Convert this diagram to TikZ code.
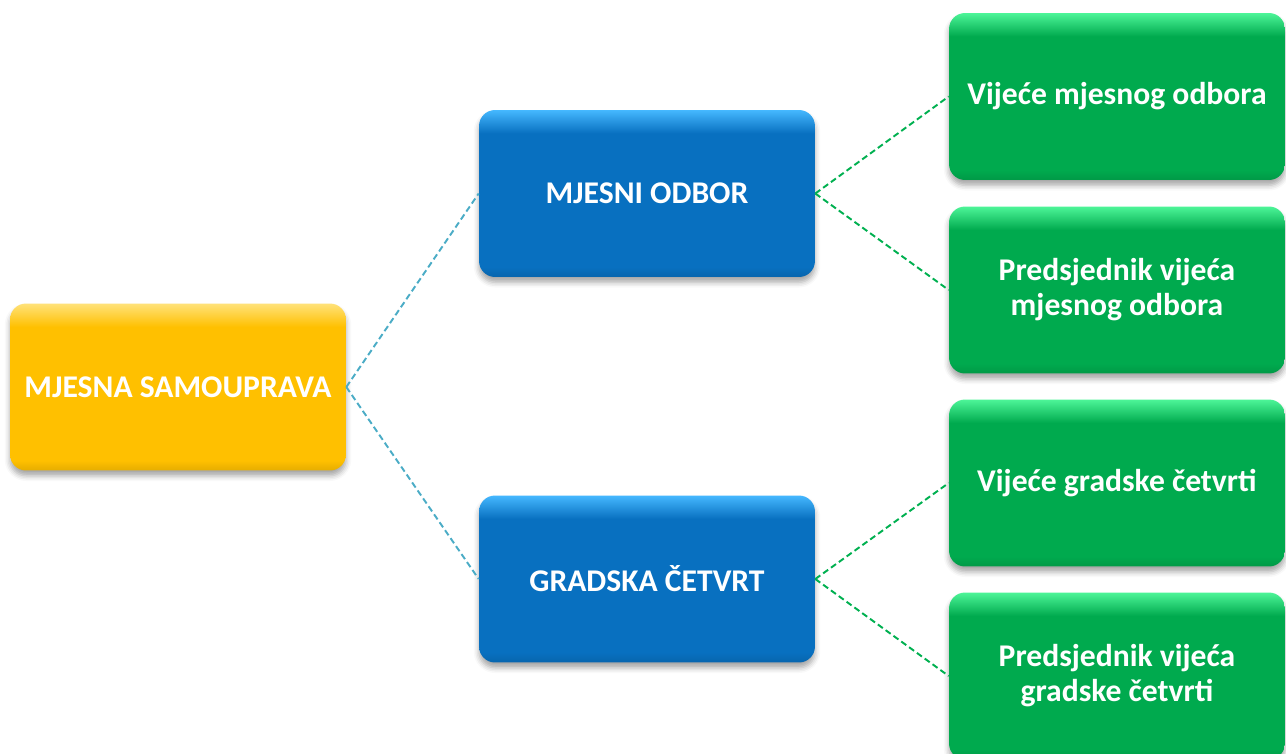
\documentclass[tikz,border=0pt]{standalone}
\usepackage{fontspec}
\setmainfont{Carlito}
\usepackage{xcolor}
\usetikzlibrary{shadows.blur}

\definecolor{yellowbody}{HTML}{FFC000}
\definecolor{yellowtop}{HTML}{FFE27A}
\definecolor{bluebody}{HTML}{0870C0}
\definecolor{bluetop}{HTML}{45B8FF}
\definecolor{greenbody}{HTML}{00AA4E}
\definecolor{greentop}{HTML}{4DF598}
\definecolor{tealline}{HTML}{4BACC6}
\definecolor{greenline}{HTML}{00B050}

\pgfdeclareverticalshading{yellowshade}{100bp}{color(0bp)=(yellowbody!90!black); color(25bp)=(yellowbody!90!black); color(28bp)=(yellowbody); color(68bp)=(yellowbody); color(75bp)=(yellowtop); color(100bp)=(yellowtop)}
\pgfdeclareverticalshading{blueshade}{100bp}{color(0bp)=(bluebody!90!black); color(25bp)=(bluebody!90!black); color(28bp)=(bluebody); color(68bp)=(bluebody); color(75bp)=(bluetop); color(100bp)=(bluetop)}
\pgfdeclareverticalshading{greenshade}{100bp}{color(0bp)=(greenbody!90!black); color(25bp)=(greenbody!90!black); color(28bp)=(greenbody); color(68bp)=(greenbody); color(75bp)=(greentop); color(100bp)=(greentop)}

\begin{document}
\begin{tikzpicture}[x=0.02cm, y=-0.02cm,
    box/.style={rounded corners=0.32cm, minimum width=6.72cm, minimum height=3.34cm,
        align=center, text=white, font=\fontsize{18}{20}\selectfont\bfseries,
        blur shadow={shadow xshift=0pt, shadow yshift=-3pt, shadow blur radius=3pt, shadow opacity=35}},
    link/.style={dashed, dash pattern=on 3.5pt off 2pt, line width=1.1pt}]

            \clip (0,0) rectangle (1286,754);

            % Root
            \node[box, shading=yellowshade] (MS) at (178,387) {MJESNA SAMOUPRAVA};

            % Second level
            \node[box, shading=blueshade] (MO) at (647,193.5) {MJESNI ODBOR};
            \node[box, shading=blueshade] (GC) at (647,579) {GRADSKA ČETVRT};

            % Third level
            \foreach \i/\y/\txt in {1/96.5/Vijeće mjesnog odbora,
                                    2/290/Predsjednik vijeća\\mjesnog odbora,
                                    3/483/Vijeće gradske četvrti,
                                    4/676/Predsjednik vijeća\\gradske četvrti}
            \node[box, shading=greenshade] (V\i) at (1117,\y) {\txt};

            % Connect levels
            \draw[link, tealline] (MS.east) -- (MO.west);
            \draw[link, tealline] (MS.east) -- (GC.west);

            \foreach \j in {1,2}
            \draw[link, greenline] (MO.east) -- (V\j.west);

            \foreach \j in {3,4}
            \draw[link, greenline] (GC.east) -- (V\j.west);

        \end{tikzpicture}
\end{document}
